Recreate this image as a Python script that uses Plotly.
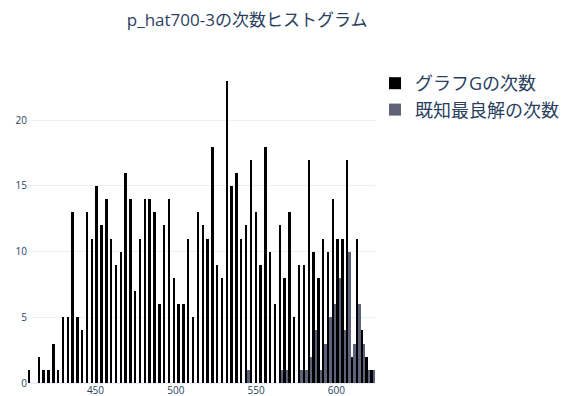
import plotly.graph_objects as go

# Degree histogram of p_hat700-3: bins of width 3 starting at degree 408
bin_start = 408
bin_size = 3

# Number of vertices of graph G per degree bin (72 bins)
graph_counts = [
    1, 0, 2, 1, 1, 3, 1, 5, 5, 13, 5, 4, 13, 11, 15, 12, 14, 11, 9, 10,
    16, 14, 7, 11, 14, 14, 13, 6, 12, 14, 8, 6, 6, 11, 5, 13, 12, 11, 18, 9,
    8, 23, 15, 16, 11, 12, 17, 13, 9, 18, 10, 6, 12, 8, 13, 5, 9, 9, 17, 10,
    8, 11, 10, 14, 11, 11, 17, 2, 11, 4, 2, 1,
]

# Number of vertices of the best known clique per degree bin (72 bins)
clique_counts = [
    0, 0, 0, 0, 0, 0, 0, 0, 0, 0, 0, 0, 0, 0, 0, 0, 0, 0, 0, 0,
    0, 0, 0, 0, 0, 0, 0, 0, 0, 0, 0, 0, 0, 0, 0, 0, 0, 0, 0, 0,
    0, 0, 0, 0, 0, 1, 0, 0, 0, 0, 0, 0, 1, 1, 0, 0, 1, 1, 2, 4,
    1, 3, 5, 6, 8, 4, 10, 3, 6, 3, 1, 1,
]

bin_centers = [bin_start + bin_size * (i + 0.5) for i in range(len(graph_counts))]

font_family = "Open Sans, 'Noto Sans CJK JP', sans-serif"
text_color = "#2a3f5f"

fig = go.Figure()
fig.add_trace(go.Bar(
    x=bin_centers, y=graph_counts, name="グラフGの次数",
    marker=dict(color="black", line=dict(width=0)),
))
fig.add_trace(go.Bar(
    x=bin_centers, y=clique_counts, name="既知最良解の次数",
    marker=dict(color="#5e6278", line=dict(width=0)),
))

fig.update_layout(
    template="plotly_white",
    width=576, height=396,
    barmode="group", bargap=0, bargroupgap=0,
    margin=dict(l=28, r=196, t=65, b=13),
    font=dict(family=font_family, color=text_color),
    title=dict(
        text="p_hat700-3の次数ヒストグラム",
        font=dict(size=17, color=text_color),
        x=0.429, xref="container", xanchor="center",
        y=0.95, yref="container", yanchor="middle",
    ),
    legend=dict(
        x=1.0, y=1.0, xanchor="left", yanchor="top",
        font=dict(size=18, color=text_color),
        tracegroupgap=0,
    ),
    showlegend=True,
)
fig.update_xaxes(range=[bin_start, bin_start + bin_size * len(graph_counts)],
                 tickfont=dict(size=10), dtick=50, showgrid=False,
                 automargin=False)
fig.update_yaxes(tickfont=dict(size=10), dtick=5, automargin=False)

fig.write_html("out.html")
